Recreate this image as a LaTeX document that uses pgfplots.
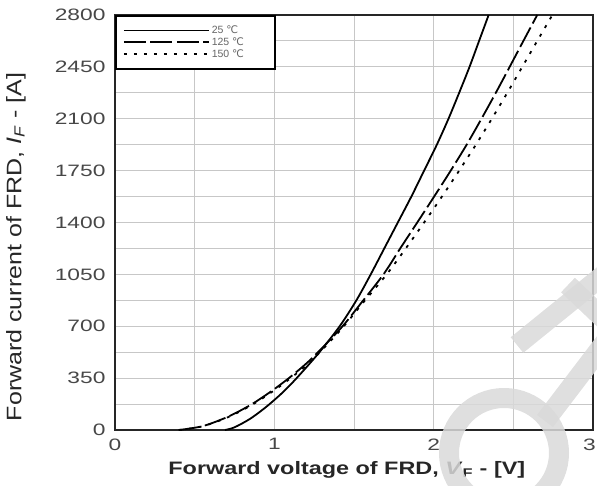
\documentclass[border=0pt]{standalone}
\usepackage{pgfplots}
\pgfplotsset{compat=1.18}
\usepackage{fontspec}
\setmainfont{Liberation Sans}
\newfontfamily\symfont{DejaVu Sans}
\newcommand{\degC}{{\symfont ℃}}
\newcommand{\wide}[1]{\scalebox{1.38}[1]{#1}}

\begin{document}
\begin{tikzpicture}
\begin{axis}[
  at={(115pt,55pt)}, anchor=south west,
  scale only axis,
  width=478pt, height=415pt,
  xmin=0, xmax=3, ymin=0, ymax=2800,
  xtick={0,1,2,3},
  xticklabels={\wide{0},\wide{1},\wide{2},\wide{3}\hspace*{7pt}},
  ytick={0,350,700,1050,1400,1750,2100,2450,2800},
  minor x tick num=1,
  minor y tick num=1,
  grid=both,
  major grid style={black!22, line width=1pt},
  minor grid style={black!22, line width=1pt},
  tick style={draw=none},
  axis line style={black!85, line width=1.8pt},
  yticklabel={\wide{\pgfmathprintnumber[assume math mode=true,1000 sep={}]{\tick}}},
  ticklabel style={font=\fontsize{16.5}{18}\selectfont, text=black!72},
  xticklabel style={yshift=-5pt},
  yticklabel style={xshift=-6pt},
  xlabel={\scalebox{1.3}[1]{\bfseries Forward voltage of FRD, \textit{V}\textsubscript{F} - [V]}},
  ylabel={\scalebox{1.19}[1]{Forward current of FRD, \textit{I}\textsubscript{\textit{F}} - [A]}},
  xlabel style={font=\fontsize{18}{20}\selectfont, text=black!85,
    at={(axis description cs:0.485,-0.108)}, anchor=base},
  ylabel style={font=\fontsize{21}{23}\selectfont, text=black!85,
    at={(axis description cs:-0.207,0.441)}, anchor=center},
  legend style={at={(0,1)}, anchor=north west, draw=black, line width=1.8pt,
    font=\fontsize{10.5}{11}\selectfont, text=black!60,
    inner xsep=7pt, inner ysep=8pt, row sep=-1.5pt,
    legend cell align=left},
  legend image code/.code={\draw[#1, line width=1.9pt] (0pt,0pt) -- (85pt,0pt);},
]
% 25 degC
\addplot[black, line width=1.8pt, smooth] coordinates {
  (0.69,0) (0.75,18) (0.85,77) (0.95,157) (1.05,251) (1.14,350) (1.28,521)
  (1.41,700) (1.515,875) (1.605,1050) (1.69,1225) (1.775,1400) (1.86,1575)
  (1.94,1750) (2.02,1925) (2.093,2100) (2.16,2275) (2.225,2450)
  (2.285,2625) (2.345,2800)
};
\addlegendentry{\makebox[54pt][l]{25 \degC}}
% 125 degC
\addplot[black, line width=1.8pt, dash pattern=on 22pt off 4.5pt, smooth] coordinates {
  (0.40,0) (0.55,26) (0.71,90) (0.86,175) (1.0,276) (1.12,375) (1.24,488)
  (1.42,690) (1.54,850) (1.685,1050) (1.79,1225) (1.897,1400) (2.003,1575)
  (2.107,1750) (2.207,1925) (2.30,2100) (2.39,2275) (2.477,2450)
  (2.563,2625) (2.65,2800)
};
\addlegendentry{\makebox[54pt][l]{125 \degC}}
% 150 degC
\addplot[black, line width=1.8pt, dash pattern=on 3pt off 7pt, smooth] coordinates {
  (0.40,0) (0.55,25) (0.71,87) (0.86,170) (1.0,268) (1.12,365) (1.24,475)
  (1.42,680) (1.55,850) (1.705,1050) (1.825,1225) (1.94,1400) (2.052,1575)
  (2.16,1750) (2.265,1925) (2.365,2100) (2.462,2275) (2.556,2450)
  (2.65,2625) (2.745,2800)
};
\addlegendentry{\makebox[54pt][l]{150 \degC}}
\end{axis}
% light watermark over the lower right corner
\begin{scope}[draw=black!15, opacity=0.85, line width=20pt]
  \draw (504pt,32pt) circle[radius=55pt];
  \draw (517pt,140pt) -- (612pt,217pt);
  \draw (568pt,200pt) -- (610pt,160pt);
  \draw (612pt,152pt) -- (545pt,64pt);
\end{scope}
\pgfresetboundingbox
\useasboundingbox (0,0) rectangle (597pt,485pt);
\end{tikzpicture}
\end{document}
